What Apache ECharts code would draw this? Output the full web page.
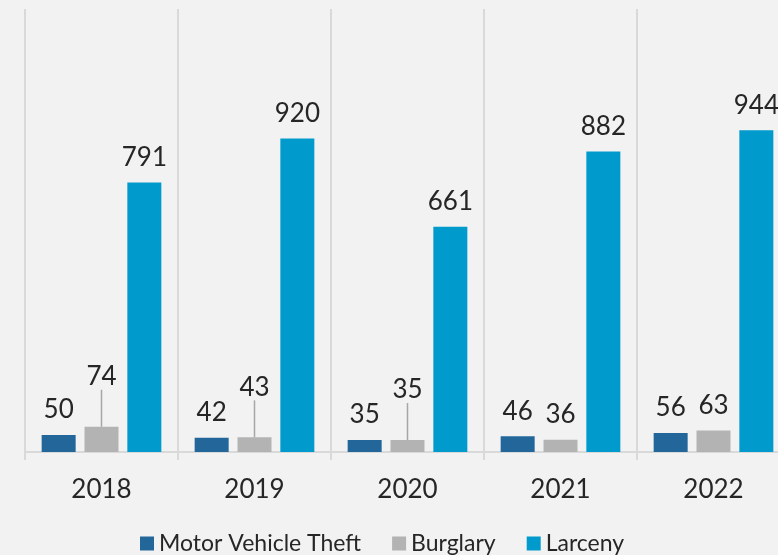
<!DOCTYPE html>
<html>
<head>
<meta charset="utf-8">
<script src="https://cdn.jsdelivr.net/npm/echarts@6/dist/echarts.min.js"></script>
<style>
  html, body { margin: 0; padding: 0; background: #f2f2f2; overflow: hidden; }
  #chart { width: 800px; height: 555px; }
</style>
</head>
<body>
<div id="chart"></div>
<script>
// Yearly offense counts
const years = ['2018', '2019', '2020', '2021', '2022'];
const motorVehicleTheft = [50, 42, 35, 46, 56];
const burglary = [74, 43, 35, 36, 63];
const larceny = [791, 920, 661, 882, 944];
// Burglary labels lifted above their bars with a leader line
const liftedBurglary = [0, 1, 2];

const FONT = 'Lato';
const gridColor = '#d9d9d9';

const chart = echarts.init(document.getElementById('chart'));

function labelStyle() {
  return {
    show: true,
    position: 'top',
    distance: 12,
    color: '#262626',
    fontFamily: FONT,
    fontSize: 26
  };
}

chart.setOption({
  backgroundColor: '#f2f2f2',
  animation: false,
  grid: { left: 25, top: 9, width: 765, height: 443, containLabel: false },
  legend: {
    top: 527,
    left: 135,
    itemWidth: 14,
    itemHeight: 14,
    itemGap: 31,
    icon: 'rect',
    textStyle: { fontFamily: FONT, fontSize: 23, color: '#262626' },
    data: ['Motor Vehicle Theft', 'Burglary', 'Larceny']
  },
  xAxis: {
    type: 'category',
    data: years,
    axisLine: { lineStyle: { color: gridColor, width: 2 } },
    axisTick: { show: true, length: 8, lineStyle: { color: gridColor, width: 2 } },
    splitLine: { show: true, lineStyle: { color: gridColor, width: 2 } },
    axisLabel: { margin: 25, color: '#262626', fontFamily: FONT, fontSize: 26 }
  },
  yAxis: {
    type: 'value',
    min: 0,
    max: 1300,
    show: false,
    splitLine: { show: false }
  },
  series: [
    {
      name: 'Motor Vehicle Theft',
      type: 'bar',
      data: motorVehicleTheft,
      barWidth: 34,
      barGap: '26%',
      itemStyle: { color: '#23679a' },
      label: labelStyle()
    },
    {
      name: 'Burglary',
      type: 'bar',
      data: burglary.map((v, i) => liftedBurglary.includes(i)
        ? { value: v, labelLine: { show: true } }
        : v),
      barWidth: 34,
      barGap: '26%',
      itemStyle: { color: '#b3b3b3' },
      label: labelStyle(),
      labelLine: { show: false, lineStyle: { color: '#a6a6a6', width: 1.5 } },
      labelLayout: (p) => liftedBurglary.includes(p.dataIndex) ? { dy: -25 } : {}
    },
    {
      name: 'Larceny',
      type: 'bar',
      data: larceny,
      barWidth: 34,
      barGap: '26%',
      itemStyle: { color: '#009acd' },
      label: labelStyle()
    }
  ]
});
</script>
</body>
</html>
